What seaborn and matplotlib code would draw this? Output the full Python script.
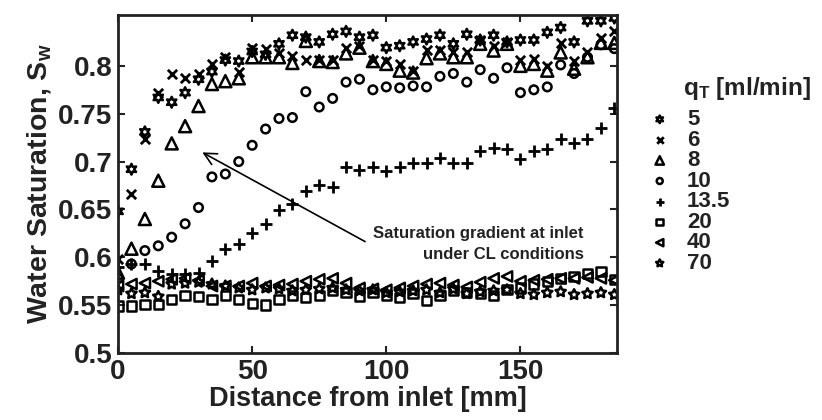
import numpy as np
import pandas as pd
import seaborn as sns
import matplotlib.pyplot as plt

# distance from inlet [mm], one reading every 5 mm
distance = np.arange(0, 190, 5)

# water saturation per total flow rate q_T [ml/min]
sw_5 = [0.648, 0.692, 0.731, 0.767, 0.762, 0.772, 0.786, 0.794, 0.806, 0.805,
        0.815, 0.812, 0.823, 0.832, 0.830, 0.825, 0.833, 0.836, 0.830, 0.832,
        0.819, 0.821, 0.825, 0.828, 0.832, 0.823, 0.833, 0.827, 0.832, 0.825,
        0.827, 0.827, 0.835, 0.840, 0.825, 0.847, 0.847, 0.850]
sw_6 = [0.598, 0.666, 0.724, 0.772, 0.791, 0.787, 0.792, 0.802, 0.809, 0.794,
        0.819, 0.818, 0.813, 0.810, 0.806, 0.806, 0.806, 0.819, 0.821, 0.806,
        0.805, 0.802, 0.795, 0.817, 0.817, 0.814, 0.814, 0.827, 0.821, 0.825,
        0.806, 0.807, 0.800, 0.824, 0.805, 0.814, 0.829, 0.836]
sw_8 = [0.584, 0.609, 0.640, 0.680, 0.719, 0.737, 0.758, 0.781, 0.784, 0.787,
        0.809, 0.809, 0.809, 0.803, 0.826, 0.805, 0.804, 0.813, 0.819, 0.805,
        0.802, 0.795, 0.793, 0.808, 0.813, 0.809, 0.809, 0.823, 0.816, 0.823,
        0.800, 0.802, 0.795, 0.814, 0.797, 0.809, 0.824, 0.824]
sw_10 = [0.578, 0.593, 0.607, 0.612, 0.621, 0.635, 0.652, 0.684, 0.687, 0.700,
         0.717, 0.734, 0.745, 0.746, 0.773, 0.757, 0.766, 0.783, 0.786, 0.775,
         0.778, 0.777, 0.779, 0.778, 0.789, 0.792, 0.783, 0.796, 0.787, 0.798,
         0.772, 0.775, 0.778, 0.801, 0.792, 0.809, 0.822, 0.818]
sw_13_5 = [0.590, 0.593, 0.593, 0.586, 0.583, 0.583, 0.584, 0.596, 0.609, 0.614,
           0.625, 0.635, 0.649, 0.656, 0.669, 0.676, 0.673, 0.694, 0.691, 0.694,
           0.690, 0.694, 0.699, 0.699, 0.704, 0.699, 0.699, 0.711, 0.714, 0.713,
           0.703, 0.711, 0.713, 0.724, 0.719, 0.724, 0.735, 0.756]
sw_20 = [0.549, 0.549, 0.551, 0.551, 0.556, 0.560, 0.559, 0.556, 0.560, 0.556,
         0.552, 0.550, 0.556, 0.560, 0.558, 0.560, 0.565, 0.563, 0.559, 0.563,
         0.560, 0.558, 0.562, 0.555, 0.560, 0.565, 0.563, 0.562, 0.560, 0.566,
         0.568, 0.572, 0.575, 0.578, 0.580, 0.583, 0.585, 0.577]
sw_40 = [0.570, 0.572, 0.573, 0.575, 0.577, 0.578, 0.576, 0.570, 0.570, 0.570,
         0.573, 0.570, 0.571, 0.572, 0.575, 0.577, 0.578, 0.573, 0.568, 0.567,
         0.566, 0.568, 0.570, 0.572, 0.573, 0.571, 0.569, 0.574, 0.578, 0.580,
         0.575, 0.576, 0.577, 0.578, 0.578, 0.579, 0.578, 0.576]
sw_70 = [0.566, 0.562, 0.563, 0.559, 0.572, 0.573, 0.574, 0.572, 0.570, 0.568,
         0.566, 0.568, 0.567, 0.565, 0.566, 0.567, 0.568, 0.566, 0.565, 0.566,
         0.563, 0.564, 0.565, 0.566, 0.563, 0.567, 0.562, 0.564, 0.565, 0.566,
         0.562, 0.561, 0.563, 0.564, 0.561, 0.562, 0.563, 0.561]

flow_labels = ["5", "6", "8", "10", "13.5", "20", "40", "70"]
series = [sw_5, sw_6, sw_8, sw_10, sw_13_5, sw_20, sw_40, sw_70]

# marker, size, outline marker (True) or line marker (False)
styles = [((6, 1, 0), 60, True), ("x", 45, False), ("^", 75, True), ("o", 38, True),
          ("+", 75, False), ("s", 45, True), ("<", 55, True), ((5, 1, 0), 60, True)]

df = pd.concat([pd.DataFrame({"distance": distance, "sw": s, "q": lab})
                for s, lab in zip(series, flow_labels)], ignore_index=True)

sns.set_style("ticks")
plt.rcParams["font.family"] = ["Liberation Sans", "DejaVu Sans"]
plt.rcParams["font.weight"] = "bold"
plt.rcParams["mathtext.fontset"] = "custom"
plt.rcParams["mathtext.rm"] = "Liberation Sans:bold"
plt.rcParams["mathtext.it"] = "Liberation Sans:bold"
plt.rcParams["mathtext.bf"] = "Liberation Sans:bold"

ink = "#222222"
fig = plt.figure(figsize=(8.22, 4.2), dpi=100)
ax = fig.add_axes([0.1436, 0.1595, 0.6070, 0.8045])

for lab, (m, s, filled) in zip(flow_labels, styles):
    sub = df[df["q"] == lab]
    if filled:
        sns.scatterplot(data=sub, x="distance", y="sw", marker=m, s=s, ax=ax,
                        facecolor="none", edgecolor="black", linewidth=1.8, label=lab)
    else:
        sns.scatterplot(data=sub, x="distance", y="sw", marker=m, s=s, ax=ax,
                        color="black", linewidth=2.0, label=lab)

ax.set_xlim(0, 186)
ax.set_ylim(0.5, 0.853)
ax.set_xticks([0, 50, 100, 150])
ax.set_yticks([0.5, 0.55, 0.6, 0.65, 0.7, 0.75, 0.8])
ax.set_yticklabels(["0.5", "0.55", "0.6", "0.65", "0.7", "0.75", "0.8"])
ax.tick_params(direction="in", length=5, width=1.5, top=True, right=True,
               labelsize=20, pad=4, colors=ink, labelcolor=ink)
for sp in ax.spines.values():
    sp.set_linewidth(2)
    sp.set_color(ink)

ax.set_xlabel("Distance from inlet [mm]", fontsize=19.5, fontweight="bold",
              color=ink, labelpad=1)
ax.set_ylabel("Water Saturation, S$_{w}$", fontsize=20.5, fontweight="bold",
              color=ink, labelpad=4)

ax.annotate("", xy=(30.5, 0.711), xytext=(93, 0.615),
            arrowprops=dict(arrowstyle="->", lw=1.2, color="black", mutation_scale=22))
ax.text(173.5, 0.614, "Saturation gradient at inlet\nunder CL conditions",
        ha="right", va="center", multialignment="right", fontsize=12,
        fontweight="bold", color=ink, linespacing=1.45)

leg = ax.legend(loc="upper left", bbox_to_anchor=(1.04, 0.748),
                frameon=False, fontsize=16, markerscale=0.7,
                handletextpad=0.6, labelspacing=-0.02, handlelength=1.25,
                borderaxespad=0)
for t in leg.get_texts():
    t.set_fontweight("bold")
    t.set_color(ink)
fig.text(683 / 822, 1 - 88 / 420, "q$_{T}$ [ml/min]", fontsize=17.5,
         fontweight="bold", color=ink, ha="left", va="center")

fig.savefig("out.png", dpi=100)
